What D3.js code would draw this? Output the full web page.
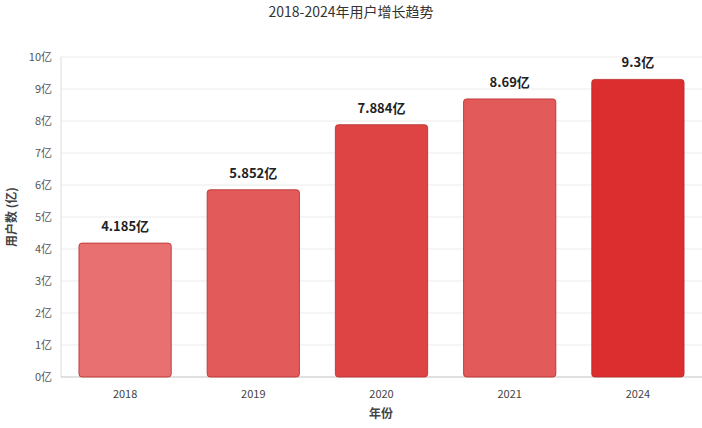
<!DOCTYPE html>
<html><head><meta charset="utf-8">
<script src="https://cdn.jsdelivr.net/npm/d3@7"></script>
<style>body{margin:0;background:#fff}text{font-family:"Noto Sans CJK SC","Noto Sans",sans-serif}</style>
</head><body><svg id="c" width="702" height="428"></svg>
<script>
const years = ['2018', '2019', '2020', '2021', '2024']
const users = [4.185, 5.852, 7.884, 8.69, 9.3]
const labels = ['4.185亿', '5.852亿', '7.884亿', '8.69亿', '9.3亿']
const colors = ['#e87070', '#e35a5a', '#df4444', '#e35a5a', '#dc2e2e']
const yTicks = d3.range(0, 11)

const svg = d3.select('#c')
const x = d3.scaleBand().domain(years).range([61, 702]).paddingInner(0.28).paddingOuter(0.14)
const y = d3.scaleLinear().domain([0, 10]).range([377, 57])

// grid
svg.append('g').selectAll('line').data(yTicks).join('line')
  .attr('x1', 61).attr('x2', 702).attr('y1', d => y(d)).attr('y2', d => y(d))
  .attr('stroke', '#ebebeb')
svg.append('line').attr('x1', 61).attr('x2', 61).attr('y1', 57).attr('y2', 377).attr('stroke', '#ddd')
svg.append('line').attr('x1', 61).attr('x2', 702).attr('y1', 377).attr('y2', 377).attr('stroke', '#ccc')

svg.append('g').selectAll('text').data(yTicks).join('text')
  .attr('x', 52).attr('y', d => y(d) + 4).attr('text-anchor', 'end')
  .attr('font-size', 11).attr('fill', '#555').text(d => d + '亿')

svg.append('g').selectAll('rect').data(users).join('rect')
  .attr('x', (d, i) => x(years[i])).attr('width', x.bandwidth())
  .attr('y', d => y(d)).attr('height', d => y(0) - y(d))
  .attr('rx', 3).attr('fill', (d, i) => colors[i])
  .attr('stroke', '#b82a2a').attr('stroke-width', 0.8)

svg.append('g').selectAll('text').data(users).join('text')
  .attr('x', (d, i) => x(years[i]) + x.bandwidth() / 2).attr('y', d => y(d) - 12)
  .attr('text-anchor', 'middle').attr('font-size', 13).attr('font-weight', 'bold')
  .attr('fill', '#222').text((d, i) => labels[i])

svg.append('g').selectAll('text').data(years).join('text')
  .attr('x', d => x(d) + x.bandwidth() / 2).attr('y', 398)
  .attr('text-anchor', 'middle').attr('font-size', 11).attr('fill', '#444').text(d => d)

svg.append('text').attr('x', 381).attr('y', 418).attr('text-anchor', 'middle')
  .attr('font-size', 12).attr('font-weight', 'bold').attr('fill', '#444').text('年份')
svg.append('text').attr('transform', 'translate(16,217) rotate(-90)').attr('text-anchor', 'middle')
  .attr('font-size', 12).attr('font-weight', 'bold').attr('fill', '#444').text('用户数 (亿)')
svg.append('text').attr('x', 351).attr('y', 17).attr('text-anchor', 'middle')
  .attr('font-size', 14).attr('fill', '#333').text('2018-2024年用户增长趋势')
</script></body></html>
